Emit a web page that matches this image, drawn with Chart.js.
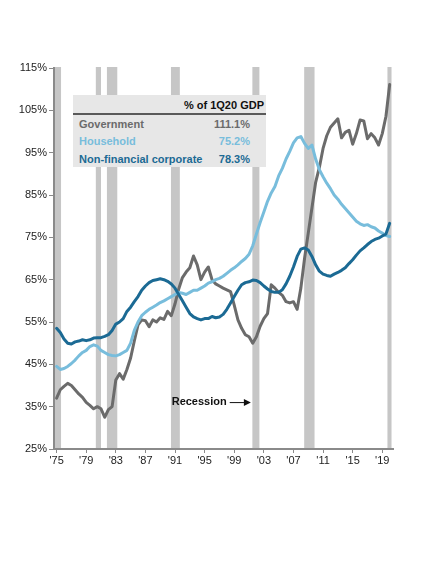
<!DOCTYPE html>
<html>
<head>
<meta charset="utf-8">
<script src="https://cdn.jsdelivr.net/npm/chart.js@4"></script>
<style>
  html, body { margin: 0; padding: 0; background: #ffffff; }
  #wrap { position: relative; width: 438px; height: 562px; font-family: "Liberation Sans", Arial, sans-serif; }
  #legendBox { position: absolute; left: 73px; top: 95px; width: 193px; height: 72px; background: #e7e7e7; }
  #legendBox .hdr { position: absolute; right: 2px; top: 3px; font-weight: bold; font-size: 11px; color: #111; line-height: 14px; }
  #legendBox .rule { position: absolute; left: 0; right: 0; top: 18px; height: 2px; background: #5a5a5a; }
  #legendBox .row { position: absolute; left: 6px; right: 16px; font-weight: bold; font-size: 11px; line-height: 14px; }
  #legendBox .row .val { position: absolute; right: 0; top: 0; }
</style>
</head>
<body>
<div id="wrap">
  <canvas id="c" width="438" height="562"></canvas>
  <div id="legendBox"></div>
</div>
<script>
// ---- Data ----
const years = [
  1975.0,1975.5,1976.0,1976.5,1977.0,1977.5,1978.0,1978.5,1979.0,1979.5,
  1980.0,1980.5,1981.0,1981.5,1982.0,1982.5,1983.0,1983.5,1984.0,1984.5,
  1985.0,1985.5,1986.0,1986.5,1987.0,1987.5,1988.0,1988.5,1989.0,1989.5,
  1990.0,1990.5,1991.0,1991.5,1992.0,1992.5,1993.0,1993.5,1994.0,1994.5,
  1995.0,1995.5,1996.0,1996.5,1997.0,1997.5,1998.0,1998.5,1999.0,1999.5,
  2000.0,2000.5,2001.0,2001.5,2002.0,2002.5,2003.0,2003.5,2004.0,2004.5,
  2005.0,2005.5,2006.0,2006.5,2007.0,2007.5,2008.0,2008.5,2009.0,2009.5,
  2010.0,2010.5,2011.0,2011.5,2012.0,2012.5,2013.0,2013.5,2014.0,2014.5,
  2015.0,2015.5,2016.0,2016.5,2017.0,2017.5,2018.0,2018.5,2019.0,2019.5,
  2020.0
];

const government = [
  37.0,39.0,39.8,40.5,40.0,39.0,38.0,37.2,36.0,35.3,
  34.5,35.0,34.5,32.5,34.3,35.0,41.3,42.8,41.5,43.8,
  46.5,50.5,54.3,55.5,55.3,53.9,55.5,55.0,56.0,55.6,
  57.5,56.5,59.3,62.8,65.5,66.8,67.8,70.6,68.5,65.0,
  66.8,68.0,65.0,64.0,63.5,63.0,62.6,62.2,59.0,55.5,
  53.5,52.0,51.5,50.0,51.5,54.0,55.8,57.0,63.8,63.0,
  62.0,61.3,59.8,59.5,59.8,58.0,63.0,70.0,76.0,82.0,
  88.0,91.5,96.0,99.0,101.0,102.0,103.0,98.5,99.8,100.3,
  97.0,99.5,102.7,102.5,98.3,99.5,98.5,96.8,99.5,103.6,
  111.1
];

const household = [
  44.5,43.8,44.0,44.5,45.2,46.0,47.0,47.8,48.3,49.2,
  49.6,49.3,48.3,47.8,47.3,47.1,47.0,47.3,47.8,48.3,
  50.0,53.0,55.0,56.5,57.3,58.0,58.5,59.0,59.6,60.0,
  60.5,61.0,61.5,62.0,61.8,61.5,62.0,62.5,62.5,63.0,
  63.5,64.2,64.5,65.0,65.3,65.8,66.5,67.2,67.8,68.5,
  69.3,70.0,71.0,73.0,75.8,78.5,81.0,83.5,85.5,87.0,
  89.5,91.3,93.5,95.3,97.3,98.5,98.8,97.2,96.0,96.8,
  93.5,91.0,89.3,87.8,86.5,85.0,84.0,82.8,81.8,80.8,
  79.8,78.8,78.2,77.8,78.0,77.5,77.2,76.5,76.0,75.4,
  75.2
];

const nonFinancialCorporate = [
  53.5,52.5,51.0,50.0,49.8,50.3,50.5,50.8,50.6,50.8,
  51.2,51.3,51.3,51.6,52.0,53.0,54.5,55.0,55.8,57.5,
  58.5,59.8,61.0,62.5,63.5,64.3,64.8,65.0,65.2,65.0,
  64.6,64.0,63.0,61.5,60.0,58.5,57.0,56.2,55.8,55.5,
  55.8,55.8,56.3,56.0,56.2,56.8,58.0,59.5,61.0,62.5,
  63.8,64.3,64.5,64.9,64.8,64.3,63.5,62.8,62.2,62.0,
  62.0,62.6,64.0,65.8,68.0,70.5,72.2,72.5,72.0,70.5,
  68.5,67.0,66.3,66.0,65.8,66.3,66.7,67.2,67.8,68.8,
  69.7,70.8,71.8,72.5,73.3,74.0,74.5,74.8,75.3,75.8,
  78.3
];

const seriesNames = ["Government", "Household", "Non-financial corporate"];
const seriesColors = ["#6b6b6b", "#78bddc", "#1b6a94"];

const recessionStarts = [1974.65, 1980.3, 1981.8, 1990.45, 2001.45, 2008.45, 2019.7];
const recessionEnds   = [1975.6, 1981.0, 1983.2, 1991.65, 2002.4, 2009.85, 2020.25];

const xTickYears = [1975,1979,1983,1987,1991,1995,1999,2003,2007,2011,2015,2019];
const yTickValues = [25,35,45,55,65,75,85,95,105,115];

const legendHeader = "% of 1Q20 GDP";
const recessionLabel = "Recession";

// ---- Build ----
const FONT = '"Liberation Sans", Arial, sans-serif';
const allSeries = [government, household, nonFinancialCorporate];

function toPoints(vals) { return years.map((x, i) => ({ x: x, y: vals[i] })); }

// Legend table (HTML text)
(function buildLegend() {
  const box = document.getElementById('legendBox');
  const hdr = document.createElement('div');
  hdr.className = 'hdr'; hdr.textContent = legendHeader; box.appendChild(hdr);
  const rule = document.createElement('div'); rule.className = 'rule'; box.appendChild(rule);
  const tops = [22, 39, 57];
  seriesNames.forEach((n, i) => {
    const r = document.createElement('div');
    r.className = 'row'; r.style.top = tops[i] + 'px'; r.style.color = seriesColors[i];
    r.textContent = n;
    const v = document.createElement('span');
    v.className = 'val';
    const arr = allSeries[i];
    v.textContent = arr[arr.length - 1].toFixed(1) + '%';
    r.appendChild(v);
    box.appendChild(r);
  });
})();

const bandsPlugin = {
  id: 'bands',
  beforeDatasetsDraw(chart) {
    const { ctx, chartArea, scales } = chart;
    ctx.save();
    ctx.fillStyle = '#c6c6c6';
    for (let i = 0; i < recessionStarts.length; i++) {
      let x0 = scales.x.getPixelForValue(recessionStarts[i]);
      let x1 = scales.x.getPixelForValue(recessionEnds[i]);
      x0 = Math.max(x0, chartArea.left + 1);
      ctx.fillRect(x0, chartArea.top - 1, x1 - x0, chartArea.bottom - chartArea.top);
    }
    ctx.restore();
  },
  afterDatasetsDraw(chart) {
    const { ctx, scales } = chart;
    ctx.save();
    const tx = scales.x.getPixelForValue(1990.55);
    const ty = scales.y.getPixelForValue(36.2);
    ctx.font = 'bold 11px ' + FONT;
    ctx.fillStyle = '#111';
    ctx.textBaseline = 'middle';
    ctx.textAlign = 'left';
    ctx.fillText(recessionLabel, tx, ty);
    const w = ctx.measureText(recessionLabel).width;
    const ax0 = tx + w + 3, ax1 = scales.x.getPixelForValue(2001.25);
    ctx.strokeStyle = '#111'; ctx.lineWidth = 1;
    ctx.beginPath(); ctx.moveTo(ax0, ty + 1); ctx.lineTo(ax1 - 6, ty + 1); ctx.stroke();
    ctx.fillStyle = '#111';
    ctx.beginPath(); ctx.moveTo(ax1, ty + 1); ctx.lineTo(ax1 - 7, ty - 2.5); ctx.lineTo(ax1 - 7, ty + 4.5); ctx.closePath(); ctx.fill();
    ctx.restore();
  }
};

const datasets = allSeries.map((vals, i) => ({
  label: seriesNames[i],
  data: toPoints(vals),
  borderColor: seriesColors[i],
  backgroundColor: seriesColors[i],
  borderWidth: 3,
  borderJoinStyle: 'round',
  borderCapStyle: 'round',
  pointRadius: 0,
  tension: 0,
  fill: false,
  order: 3 - i
}));

new Chart(document.getElementById('c'), {
  type: 'line',
  data: { datasets },
  options: {
    responsive: false,
    animation: false,
    devicePixelRatio: 1,
    layout: { padding: { left: 0, top: 68, right: 45, bottom: 0 } },
    plugins: { legend: { display: false }, tooltip: { enabled: false } },
    scales: {
      x: {
        type: 'linear',
        min: 1974.65,
        max: 2020.45,
        afterFit(s) { s.height = 113; },
        afterBuildTicks(s) { s.ticks = xTickYears.map(v => ({ value: v })); },
        grid: { drawOnChartArea: false, drawTicks: true, tickLength: 4, color: '#8a8a8a', lineWidth: 1 },
        border: { display: true, color: '#8a8a8a', width: 2 },
        ticks: {
          autoSkip: false, maxRotation: 0, padding: 1,
          color: '#222', font: { family: FONT, size: 11 },
          callback: v => "'" + String(v).slice(2)
        }
      },
      y: {
        type: 'linear',
        min: 25, max: 115,
        afterFit(s) { s.width = 54; },
        afterBuildTicks(s) { s.ticks = yTickValues.map(v => ({ value: v })); },
        grid: { drawOnChartArea: false, drawTicks: true, tickLength: 5, color: '#8a8a8a', lineWidth: 1 },
        border: { display: true, color: '#8a8a8a', width: 2 },
        ticks: {
          padding: 2, color: '#222', font: { family: FONT, size: 11 },
          callback: v => v + '%'
        }
      }
    }
  },
  plugins: [bandsPlugin]
});
</script>
</body>
</html>
